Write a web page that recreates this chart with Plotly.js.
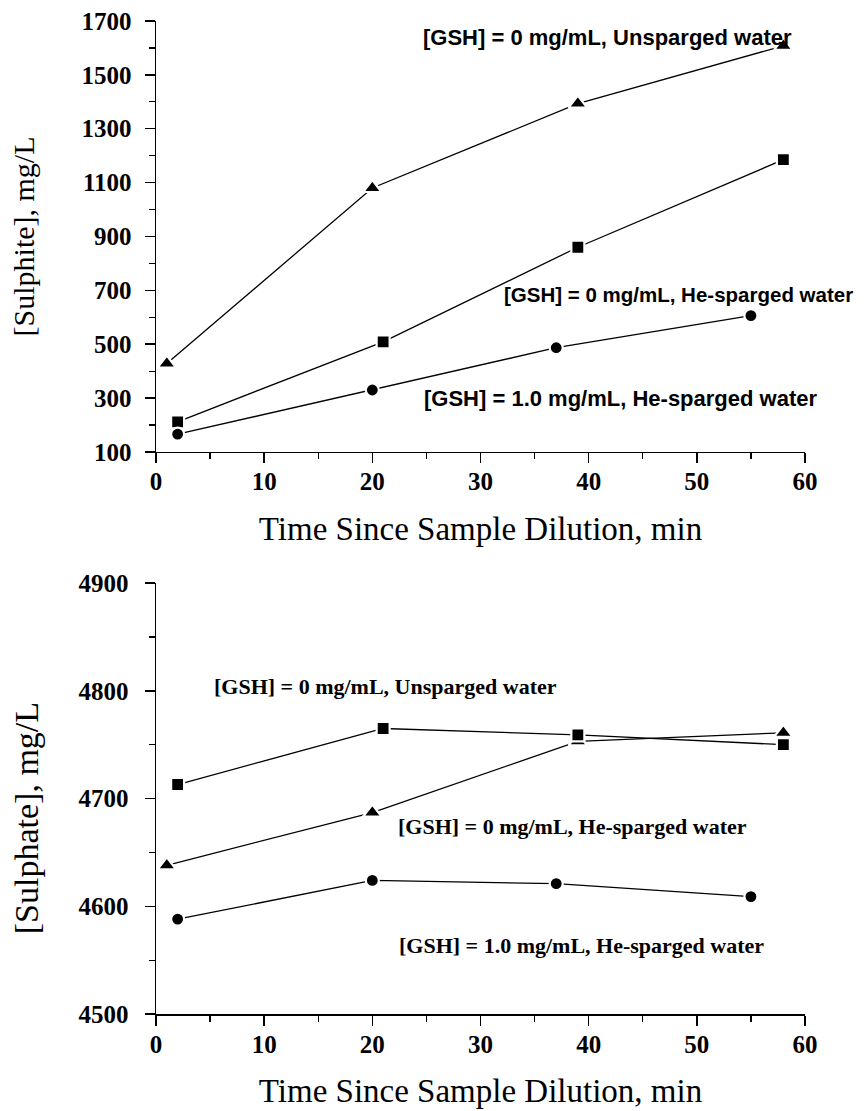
<!DOCTYPE html>
<html>
<head>
<meta charset="utf-8">
<script src="https://cdn.plot.ly/plotly-3.0.1.min.js"></script>
<style>html,body{margin:0;padding:0;background:#fff;}#chart{width:864px;height:1111px;}</style>
</head>
<body>
<div id="chart"></div>
<script>
// ---- Data ----
const xTriangle = [1, 20, 39, 58];
const xSquare = [2, 21, 39, 58];
const xCircle = [2, 20, 37, 55];

// Top panel: [Sulphite], mg/L
const sulphiteUnsparged = [428, 1080, 1393, 1608];
const sulphiteHe0 = [212, 509, 860, 1185];
const sulphiteHe1 = [166, 330, 487, 606];

// Bottom panel: [Sulphate], mg/L
const sulphateUnsparged = [4638, 4687, 4753, 4761];
const sulphateHe0 = [4713, 4765, 4759, 4750];
const sulphateHe1 = [4588, 4624, 4621, 4609];

const seriesNames = [
  "[GSH] = 0 mg/mL, Unsparged water",
  "[GSH] = 0 mg/mL, He-sparged water",
  "[GSH] = 1.0 mg/mL, He-sparged water"
];

const xTitle = "Time Since Sample Dilution, min";
const yTitleTop = "[Sulphite], mg/L";
const yTitleBottom = "[Sulphate], mg/L";

// ---- Styles ----
const serif = "Liberation Serif, Times New Roman, serif";
const sans = "Liberation Sans, Arial, sans-serif";
const lineStyle = {color: "black", width: 1.3};
const mk = (symbol, size) => ({symbol: symbol, size: size, color: "black", line: {color: "white", width: 2.2}});

function tr(x, y, name, symbol, size, xa, ya) {
  return {x: x, y: y, name: name, type: "scatter", mode: "lines+markers",
    line: lineStyle, marker: mk(symbol, size), xaxis: xa, yaxis: ya, showlegend: false};
}

const data = [
  tr(xTriangle, sulphiteUnsparged, seriesNames[0], "triangle-up", 16, "x", "y"),
  tr(xSquare, sulphiteHe0, seriesNames[1], "square", 13, "x", "y"),
  tr(xCircle, sulphiteHe1, seriesNames[2], "circle", 13, "x", "y"),
  tr(xTriangle, sulphateUnsparged, seriesNames[0], "triangle-up", 16, "x2", "y2"),
  tr(xSquare, sulphateHe0, seriesNames[1], "square", 13, "x2", "y2"),
  tr(xCircle, sulphateHe1, seriesNames[2], "circle", 13, "x2", "y2")
];

const tickFont = {family: serif, size: 25, color: "black", weight: "bold"};
function xAxis(anchor) {
  return {
    anchor: anchor, domain: [0, 1], range: [0, 60], dtick: 10, tick0: 0,
    ticks: "outside", ticklen: 10, tickwidth: 1.5, tickcolor: "black",
    minor: {dtick: 5, ticks: "outside", ticklen: 6, tickwidth: 1.2, tickcolor: "black"},
    showline: true, linewidth: 1.5, linecolor: "black",
    showgrid: false, zeroline: false, automargin: false,
    ticklabelstandoff: -3,
    tickfont: tickFont,
    title: {text: xTitle, font: {family: serif, size: 33, color: "black"}, standoff: 22}
  };
}
function yAxis(anchor, domain, range, dtick, minorDtick, title, lblStandoff, titleStandoff) {
  return {
    anchor: anchor, domain: domain, range: range, dtick: dtick, tick0: range[0],
    ticks: "outside", ticklen: 10, tickwidth: 1.5, tickcolor: "black",
    minor: {dtick: minorDtick, ticks: "outside", ticklen: 6, tickwidth: 1.2, tickcolor: "black"},
    showline: true, linewidth: 1.5, linecolor: "black",
    showgrid: false, zeroline: false, automargin: false,
    ticklabelstandoff: lblStandoff,
    tickfont: tickFont,
    title: {text: title, font: {family: serif, size: 30, color: "black"}, standoff: titleStandoff}
  };
}

const annFontTop = {family: sans, size: 22, color: "black", weight: "bold"};
const annFontTop2 = {family: sans, size: 20.5, color: "black", weight: "bold"};
const annFontBot = {family: serif, size: 22, color: "black", weight: "bold"};
function ann(text, x, y, xr, yr, font) {
  return {text: text, x: x, y: y, xref: xr, yref: yr, xanchor: "left", yanchor: "middle",
    showarrow: false, font: font, borderpad: 0};
}

const layout = {
  width: 864, height: 1111,
  margin: {l: 156, r: 59, t: 21, b: 97},
  paper_bgcolor: "white", plot_bgcolor: "white",
  showlegend: false,
  xaxis: xAxis("y"),
  yaxis: yAxis("x", [0.566, 1], [100, 1700], 200, 100, yTitleTop, 8, 38),
  xaxis2: xAxis("y2"),
  yaxis2: yAxis("x2", [0, 0.434], [4500, 4900], 100, 50, "", 11, 40),
  annotations: [
    ann(seriesNames[0], 24.6, 1637, "x", "y", annFontTop),
    ann(seriesNames[1], 32.1, 683, "x", "y", annFontTop2),
    ann(seriesNames[2], 24.7, 300, "x", "y", annFontTop),
    ann(seriesNames[0], 5.3, 4804, "x2", "y2", annFontBot),
    ann(seriesNames[1], 22.3, 4674, "x2", "y2", annFontBot),
    ann(seriesNames[2], 22.4, 4564, "x2", "y2", annFontBot),
    {text: yTitleBottom, textangle: -90, x: -0.199, y: 0.197, xref: "paper", yref: "paper",
     xanchor: "center", yanchor: "middle", showarrow: false,
     font: {family: serif, size: 34, color: "black"}}
  ]
};

Plotly.newPlot("chart", data, layout, {staticPlot: true, displayModeBar: false});
</script>
</body>
</html>
